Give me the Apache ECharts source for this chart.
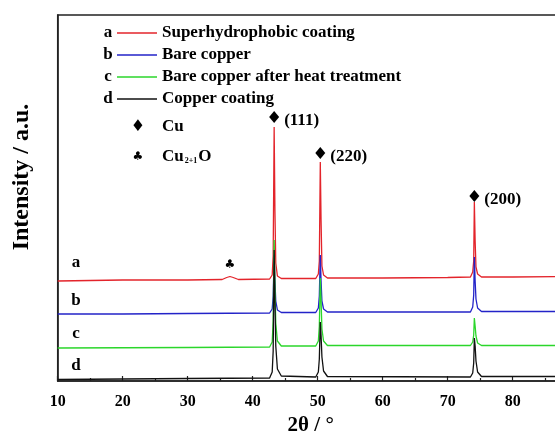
<!DOCTYPE html>
<html>
<head>
<meta charset="utf-8">
<script src="https://cdn.jsdelivr.net/npm/echarts@6/dist/echarts.min.js"></script>
<style>
  html, body { margin: 0; padding: 0; background: #fff; }
  #xrd { width: 555px; height: 436px; }
</style>
</head>
<body>
<div id="xrd"></div>
<script>
// 曲线数据 [2θ, 强度(a.u.)]
var sampleNames = ['Superhydrophobic coating', 'Bare copper', 'Bare copper after heat treatment', 'Copper coating'];
var sampleLetters = ['a', 'b', 'c', 'd'];
var sampleColors = ['#e3242b', '#2323c8', '#2bd62b', '#111111'];

var curveA = [
    [10, 100], [20, 101], [30, 101], [35.3, 101.5], [36.0, 103.5], [36.5, 104.5], [37.0, 103.5], [37.8, 101.5],
    [42.6, 102], [43.0, 106], [43.15, 125], [43.3, 254], [43.42, 170], [43.55, 118], [43.8, 105], [44.4, 102.5],
    [49.7, 102.5], [50.1, 107], [50.25, 120], [50.4, 219], [50.52, 160], [50.65, 115], [50.9, 106], [51.5, 103],
    [60, 103], [70, 103.5], [73.5, 104], [73.85, 109], [74.0, 120], [74.1, 179], [74.22, 140], [74.35, 114],
    [74.6, 107], [75.2, 104], [80, 104], [90, 104.5]
];
var curveB = [
    [10, 67], [20, 67], [30, 67.5], [42.6, 68], [43.0, 72], [43.15, 85], [43.3, 126], [43.42, 100], [43.55, 80],
    [43.8, 71], [44.4, 68.5], [49.7, 68.5], [50.1, 73], [50.25, 85], [50.4, 126], [50.52, 100], [50.65, 80],
    [50.9, 72], [51.5, 69], [60, 69], [73.5, 69], [73.85, 74], [74.0, 86], [74.1, 124], [74.22, 100], [74.35, 82],
    [74.6, 73], [75.2, 69.5], [90, 69.5]
];
var curveC = [
    [10, 33], [30, 33.5], [42.6, 34], [43.0, 39], [43.15, 60], [43.3, 141], [43.42, 95], [43.55, 58], [43.8, 40],
    [44.4, 35], [49.7, 35], [50.1, 40], [50.25, 55], [50.4, 103], [50.52, 80], [50.65, 52], [50.9, 40], [51.5, 35.5],
    [73.5, 35.5], [73.85, 39], [74.0, 46], [74.1, 63], [74.22, 55], [74.35, 45], [74.6, 38], [75.2, 35.5], [90, 35.5]
];
var curveD = [
    [10, 1.5], [20, 2], [30, 2.5], [42.6, 3], [43.0, 9], [43.15, 30], [43.3, 131], [43.42, 80], [43.55, 35],
    [43.8, 12], [44.4, 5], [49.7, 4], [50.1, 9], [50.25, 22], [50.4, 59], [50.52, 45], [50.65, 24], [50.9, 10],
    [51.5, 4.5], [73.5, 4], [73.85, 8], [74.0, 18], [74.1, 43], [74.22, 35], [74.35, 20], [74.6, 9], [75.2, 4.5],
    [90, 4.5]
];
var curves = [curveA, curveB, curveC, curveD];

// 字母标注位置 a b c d
var letterPos = [[12.8, 118], [12.8, 80], [12.8, 47], [12.8, 15]];
// Cu 衍射峰标注
var peakNames = ['(111)', '(220)', '(200)'];
var peakPos = [[43.3, 264], [50.4, 228], [74.1, 185]];
// Cu2+1O 峰
var oxidePos = [36.5, 116];

var serif = 'Liberation Serif';
var myChart = echarts.init(document.getElementById('xrd'));

var series = curves.map(function (c, i) {
    return {
        name: sampleNames[i],
        type: 'line',
        data: c,
        symbol: 'none',
        silent: true,
        lineStyle: { color: sampleColors[i], width: 1.3 },
        itemStyle: { color: sampleColors[i] },
        markPoint: {
            silent: true,
            symbol: 'circle',
            symbolSize: 1,
            itemStyle: { color: 'rgba(0,0,0,0)' },
            label: {
                show: true, position: 'inside', formatter: '{b}', color: '#000',
                fontFamily: serif, fontWeight: 'bold', fontSize: 17
            },
            data: [{ name: sampleLetters[i], coord: letterPos[i] }]
        }
    };
});

// 衍射峰标记
series.push({
    type: 'line',
    data: [],
    silent: true,
    markPoint: {
        silent: true,
        symbol: 'diamond',
        symbolSize: [10, 12],
        itemStyle: { color: '#000' },
        label: {
            show: true, position: 'right', distance: 5, offset: [0, 4], formatter: '{b}', color: '#000',
            fontFamily: serif, fontWeight: 'bold', fontSize: 17
        },
        data: peakNames.map(function (n, k) { return { name: n, coord: peakPos[k] }; })
    }
});
series.push({
    type: 'line',
    data: [],
    silent: true,
    markPoint: {
        silent: true,
        symbol: 'circle',
        symbolSize: 1,
        itemStyle: { color: 'rgba(0,0,0,0)' },
        label: {
            show: true, position: 'inside', formatter: '♣', color: '#000',
            fontFamily: 'DejaVu Sans', fontSize: 12
        },
        data: [{ name: 'Cu2+1O', coord: oxidePos }]
    }
});

var letterFont = 'bold 17px "Liberation Serif"';

var option = {
    animation: false,
    backgroundColor: '#fff',
    grid: {
        left: 57.7, top: 15, width: 520, height: 366,
        show: true, borderColor: '#222', borderWidth: 1.5,
        outerBoundsMode: 'none'
    },
    legend: {
        data: sampleNames,
        orient: 'vertical',
        left: 117, top: 24.5,
        padding: 0,
        icon: 'rect',
        itemWidth: 40, itemHeight: 1.6, itemGap: 5,
        selectedMode: false,
        textStyle: { color: '#000', fontFamily: serif, fontWeight: 'bold', fontSize: 17, lineHeight: 17 }
    },
    xAxis: {
        type: 'value',
        min: 10, max: 90, interval: 10,
        name: '2θ / °',
        nameLocation: 'middle',
        nameGap: 33,
        nameTextStyle: { color: '#000', fontFamily: serif, fontWeight: 'bold', fontSize: 21, padding: [0, 14, 0, 0] },
        axisLine: { lineStyle: { color: '#222', width: 1.5 } },
        axisTick: { inside: true, length: 5, lineStyle: { color: '#222', width: 1.2 } },
        minorTick: { show: true, splitNumber: 2, length: 3, lineStyle: { color: '#222', width: 1.2 } },
        axisLabel: { margin: 13, color: '#000', fontFamily: serif, fontWeight: 'bold', fontSize: 16 },
        splitLine: { show: false }
    },
    yAxis: {
        type: 'value',
        min: 0, max: 366,
        axisLine: { show: true, lineStyle: { color: '#222', width: 1.5 } },
        axisTick: { show: false },
        axisLabel: { show: false },
        splitLine: { show: false }
    },
    graphic: [
        { type: 'text', x: 22, y: 177, rotation: Math.PI / 2,
          style: { text: 'Intensity / a.u.', align: 'center', verticalAlign: 'middle', fill: '#000',
                   font: 'bold 24px "Liberation Serif"' } },
        // 图例前的字母
        { type: 'text', x: 108, y: 33, style: { text: 'a', align: 'center', verticalAlign: 'middle', fill: '#000', font: letterFont } },
        { type: 'text', x: 108, y: 55, style: { text: 'b', align: 'center', verticalAlign: 'middle', fill: '#000', font: letterFont } },
        { type: 'text', x: 108, y: 77, style: { text: 'c', align: 'center', verticalAlign: 'middle', fill: '#000', font: letterFont } },
        { type: 'text', x: 108, y: 99, style: { text: 'd', align: 'center', verticalAlign: 'middle', fill: '#000', font: letterFont } },
        // 物相图例
        { type: 'text', x: 138, y: 127, style: { text: '♦', align: 'center', verticalAlign: 'middle', fill: '#000', font: '16px "DejaVu Sans"' } },
        { type: 'text', x: 162, y: 127, style: { text: 'Cu', verticalAlign: 'middle', fill: '#000', font: letterFont } },
        { type: 'text', x: 138, y: 157, style: { text: '♣', align: 'center', verticalAlign: 'middle', fill: '#000', font: '12px "DejaVu Sans"' } },
        { type: 'text', x: 162, y: 156, style: {
            text: '{m|Cu}{s|2+1}{m|O}', verticalAlign: 'middle', fill: '#000',
            rich: {
                m: { fontFamily: serif, fontWeight: 'bold', fontSize: 17, lineHeight: 18, verticalAlign: 'bottom' },
                s: { fontFamily: serif, fontWeight: 'bold', fontSize: 8, lineHeight: 8, verticalAlign: 'bottom', padding: [0, 1, 0, 1] }
            } } }
    ],
    series: series
};

myChart.setOption(option);
</script>
</body>
</html>
